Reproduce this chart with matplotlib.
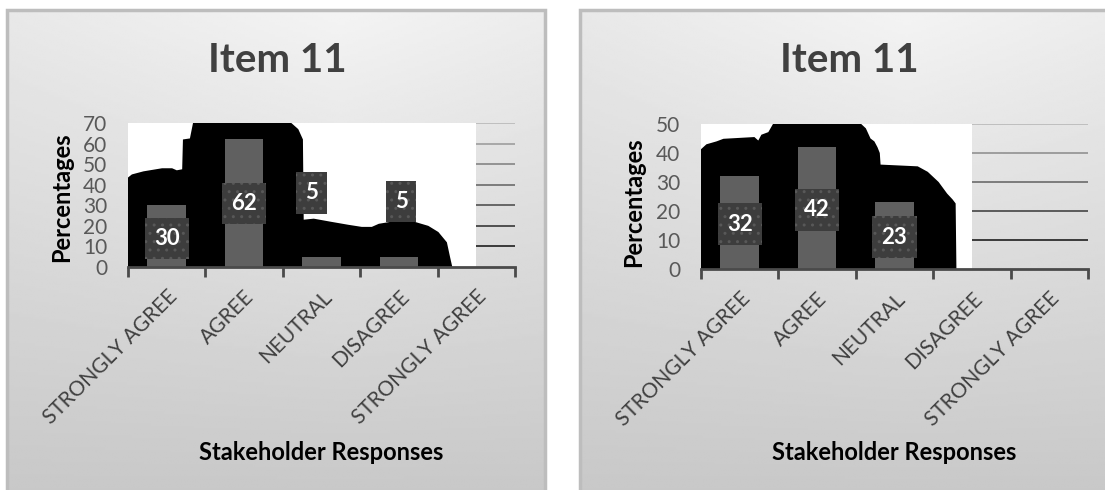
import numpy as np
import matplotlib
matplotlib.use("Agg")
import matplotlib.pyplot as plt
import matplotlib.transforms as mtransforms
from matplotlib.patches import Rectangle

plt.rcParams['font.family'] = ['Lato', 'DejaVu Sans']

# DATA

categories = ['STRONGLY AGREE', 'AGREE', 'NEUTRAL', 'DISAGREE', 'STRONGLY AGREE']
title = 'Item 11'

left_values = [30, 62, 5, 5, 0]
left_label_y = [14, 31, 36, 32]          # where the value boxes sit
left_label_dx = [0, 0, -0.13, 0.03]
left_ymax = 70

right_values = [32, 42, 23, 0, 0]
right_label_y = [15.4, 20.5, 11]
right_label_dx = [0, 0, 0]
right_ymax = 50

# black shadow shape behind the bars (category units, percent)
left_blob_x = [-0.5, -0.45, -0.3, -0.06, 0.07, 0.13, 0.2, 0.21, 0.3, 0.34, 1.61, 1.7, 1.76,
               1.77, 1.9, 2.12, 2.35, 2.52, 2.65, 2.74, 2.9, 3.2, 3.38, 3.51, 3.62, 3.66, 3.69]
left_blob_y = [43.5, 45, 46.5, 48, 48, 47, 47.5, 62, 62.5, 70, 70, 67, 62,
               23, 23.5, 22, 20.5, 19.5, 19.5, 21, 22, 22, 20, 17, 12, 5, 0]

right_blob_x = [-0.5, -0.43, -0.3, -0.21, 0.19, 0.24, 0.28, 0.37, 0.43, 1.57, 1.63, 1.69,
                1.74, 1.78, 1.81, 1.82, 2.3, 2.43, 2.57, 2.68, 2.75, 2.79, 2.8]
right_blob_y = [41.3, 43, 44, 44.9, 45.5, 44.3, 46.3, 47.2, 50, 50, 48.5, 45,
                44, 42, 40, 36, 35.4, 33.5, 30, 26, 24, 22.6, 0]

W, H = 1105, 490
fig = plt.figure(figsize=(W / 100, H / 100), dpi=100)
fig.patch.set_facecolor('white')


def px_rect(x0, y0, x1, y1):
    # pixel box (top-down) -> figure fraction
    return [x0 / W, 1 - y1 / H, (x1 - x0) / W, (y1 - y0) / H]


def panel_background(x0, y0, x1, y1):
    bg = fig.add_axes(px_rect(x0, y0, x1, y1), zorder=-10)
    xs = np.linspace(0, 1, 200)
    ys = np.linspace(0, 1, 200)
    X, Y = np.meshgrid(xs, ys)
    v = 0.955 - 0.17 * Y - 0.07 * np.abs(X - 0.62) * (1 - Y)
    bg.imshow(v, cmap='gray', vmin=0, vmax=1, aspect='auto', extent=[0, 1, 1, 0])
    bg.set_xlim(0, 1)
    bg.set_ylim(1, 0)
    bg.axis('off')
    bg.add_patch(Rectangle((0, 0), 1, 1, fill=False, edgecolor='#bdbdbd', lw=2.5,
                           transform=bg.transAxes, clip_on=False))


def draw_panel(rect, values, label_y, label_dx, ymax, blob_x, blob_y, white_end, box_h,
               title_xy, ylabel_xy, xlabel_xy):
    ax = fig.add_axes(px_rect(*rect))
    ax.set_facecolor('none')
    x = np.arange(len(categories))

    ax.add_patch(Rectangle((-0.5, 0), white_end + 0.5, ymax, facecolor='white',
                           edgecolor='none', zorder=0))
    ax.fill(blob_x + [blob_x[-1], blob_x[0]], blob_y + [0, 0], color='black', lw=0, zorder=1)

    # gridlines only show past the white area
    grid_levels = list(range(10, ymax + 1, 10))
    for i, lv in enumerate(grid_levels):
        g = 0.12 + 0.6 * i / (len(grid_levels) - 1)
        ax.hlines(lv, white_end, 4.5, color=(g, g, g), lw=1.2, zorder=0)

    ax.bar(x, values, width=0.5, color='#606060', zorder=2)

    for i, ly in enumerate(label_y):
        txt = str(values[i])
        bw = 0.57 if len(txt) > 1 else 0.39
        cx = i + label_dx[i]
        ax.add_patch(Rectangle((cx - bw / 2, ly - box_h / 2), bw, box_h, facecolor='#3d3d3d',
                               edgecolor='#585858', hatch='..', lw=0, zorder=3))
        ax.text(cx, ly, txt, ha='center', va='center', color='white',
                fontsize=16, fontweight='bold', zorder=4)

    ax.set_xlim(-0.5, 4.5)
    ax.set_ylim(0, ymax)
    ax.set_xticks(np.arange(-0.5, 5, 1))
    ax.set_xticklabels([])
    ax.set_xticks(x, minor=True)
    ax.set_xticklabels(categories, minor=True, rotation=45, ha='right', va='top',
                       rotation_mode='anchor', fontsize=15, color='#404040')
    shift = mtransforms.ScaledTranslation(5 / 100, 0, fig.dpi_scale_trans)
    for lab in ax.get_xticklabels(minor=True):
        lab.set_transform(lab.get_transform() + shift)
    ax.tick_params(axis='x', which='major', length=7, width=2, color='#4a4a4a', direction='out')
    ax.tick_params(axis='x', which='minor', length=0, pad=14)
    ax.set_yticks(range(0, ymax + 1, 10))
    ax.tick_params(axis='y', length=0, pad=15, labelsize=15, labelcolor='#595959')
    for s in ['left', 'right', 'top']:
        ax.spines[s].set_visible(False)
    ax.spines['bottom'].set_color('#4a4a4a')
    ax.spines['bottom'].set_linewidth(2)

    fig.text(title_xy[0] / W, 1 - title_xy[1] / H, title, ha='center', va='center',
             fontsize=29, fontweight='bold', color='#404040')
    fig.text(ylabel_xy[0] / W, 1 - ylabel_xy[1] / H, 'Percentages', rotation=90,
             ha='center', va='center', fontsize=17, fontweight='bold', color='black')
    fig.text(xlabel_xy[0] / W, 1 - xlabel_xy[1] / H, 'Stakeholder Responses',
             ha='center', va='center', fontsize=17, fontweight='bold', color='black')


panel_background(7, 10, 545, 492)
panel_background(580, 10, 1107, 492)

draw_panel((128, 123, 515, 267), left_values, left_label_y, left_label_dx, left_ymax,
           left_blob_x, left_blob_y, 4.0, 20, (277, 60), (62, 197), (321, 452))
draw_panel((701, 124, 1088, 269), right_values, right_label_y, right_label_dx, right_ymax,
           right_blob_x, right_blob_y, 3.0, 14.5, (849, 60), (634, 202), (894, 452))

fig.savefig('out.png', dpi=100)
